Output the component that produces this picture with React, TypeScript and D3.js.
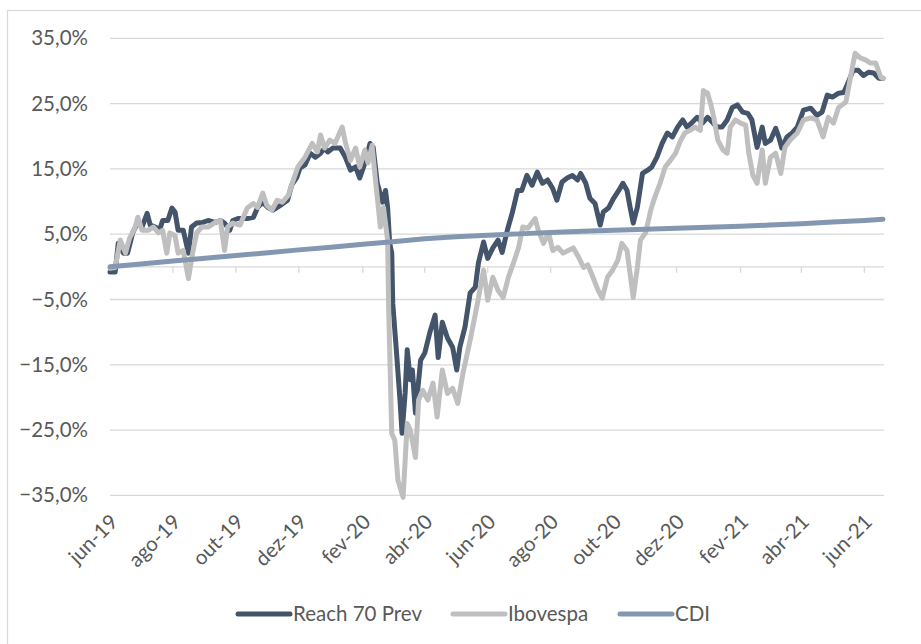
import * as d3 from 'd3';
import React, { useEffect, useRef } from 'react';

const reachDates = [
  '2019-06-01', '2019-06-06', '2019-06-09', '2019-06-14', '2019-06-18', '2019-06-23', '2019-06-28',
  '2019-07-02', '2019-07-07', '2019-07-10', '2019-07-15', '2019-07-19', '2019-07-22', '2019-07-27', '2019-07-31',
  '2019-08-03', '2019-08-06', '2019-08-11', '2019-08-16', '2019-08-19', '2019-08-24', '2019-08-30',
  '2019-09-04', '2019-09-11', '2019-09-16', '2019-09-20', '2019-09-25', '2019-09-28',
  '2019-10-03', '2019-10-12', '2019-10-18', '2019-10-22', '2019-10-27',
  '2019-11-01', '2019-11-06', '2019-11-13', '2019-11-20', '2019-11-24', '2019-11-29',
  '2019-12-02', '2019-12-07', '2019-12-12', '2019-12-17', '2019-12-22', '2019-12-26', '2019-12-29',
  '2020-01-03', '2020-01-10', '2020-01-15', '2020-01-20', '2020-01-25', '2020-01-29',
  '2020-02-03', '2020-02-08', '2020-02-11', '2020-02-15', '2020-02-20', '2020-02-23', '2020-02-25', '2020-02-27', '2020-02-29',
  '2020-03-01', '2020-03-05', '2020-03-08', '2020-03-10', '2020-03-13', '2020-03-15', '2020-03-18', '2020-03-20', '2020-03-23', '2020-03-28',
  '2020-04-01', '2020-04-06', '2020-04-11', '2020-04-14', '2020-04-18', '2020-04-23', '2020-04-28',
  '2020-05-02', '2020-05-05', '2020-05-10', '2020-05-15', '2020-05-20', '2020-05-23', '2020-05-28',
  '2020-06-01', '2020-06-06', '2020-06-11', '2020-06-15', '2020-06-20', '2020-06-25', '2020-06-30',
  '2020-07-04', '2020-07-09', '2020-07-14', '2020-07-19', '2020-07-24', '2020-07-29',
  '2020-08-03', '2020-08-07', '2020-08-12', '2020-08-17', '2020-08-22', '2020-08-27', '2020-08-30',
  '2020-09-04', '2020-09-08', '2020-09-13', '2020-09-18', '2020-09-21', '2020-09-26',
  '2020-10-01', '2020-10-06', '2020-10-10', '2020-10-14', '2020-10-17', '2020-10-20', '2020-10-24', '2020-10-29',
  '2020-11-03', '2020-11-07', '2020-11-12', '2020-11-17', '2020-11-22', '2020-11-27',
  '2020-12-02', '2020-12-07', '2020-12-11', '2020-12-16', '2020-12-21', '2020-12-26', '2020-12-31',
  '2021-01-05', '2021-01-09', '2021-01-14', '2021-01-19', '2021-01-24', '2021-01-29',
  '2021-02-03', '2021-02-08', '2021-02-12', '2021-02-17', '2021-02-22', '2021-02-25',
  '2021-03-02', '2021-03-07', '2021-03-10', '2021-03-13', '2021-03-18', '2021-03-23', '2021-03-28',
  '2021-04-03', '2021-04-10', '2021-04-16', '2021-04-21', '2021-04-26',
  '2021-05-01', '2021-05-07', '2021-05-12', '2021-05-16', '2021-05-21', '2021-05-26', '2021-05-31',
  '2021-06-05', '2021-06-10', '2021-06-15', '2021-06-19',
];
const reachValues = [
  -0.8, -0.8, 3.6, 2.1, 2.1, 5.2, 6.8,
  6.1, 8.2, 6.4, 6.1, 5.6, 7.1, 7.1, 9.0,
  8.4, 5.6, 5.6, 2.1, 6.1, 6.7, 6.8,
  7.1, 6.8, 7.1, 6.7, 5.6, 7.1,
  7.4, 7.4, 7.6, 9.1, 9.9,
  9.1, 8.7, 9.4, 10.2, 12.5, 13.7,
  15.1, 15.6, 17.4, 16.8, 17.4, 18.2, 17.6,
  18.2, 18.2, 16.8, 14.8, 15.3, 13.6,
  15.9, 18.9, 18.3, 12.8, 9.9, 11.7, 9.1, 3.6, 2.1,
  -5.6, -13.9, -20.4, -25.5, -19.3, -12.7, -17.3, -15.8, -22.4, -14.3,
  -13.2, -10.0, -7.4, -13.9, -8.5, -10.9, -12.3,
  -15.8, -12.3, -9.2, -4.0, -3.1, 0.6, 3.8,
  1.3, 2.9, 4.1, 2.2, 5.6, 8.4, 11.7,
  11.7, 14.0, 12.5, 14.5, 12.8, 13.3,
  12.0, 10.2, 13.0, 13.6, 14.0, 13.3, 14.3,
  12.8, 10.5, 9.7, 6.4, 8.4, 9.0,
  10.5, 11.7, 12.8, 11.7, 9.1, 6.7, 9.1, 14.3,
  14.8, 15.3, 16.8, 18.9, 20.5, 19.9,
  21.4, 22.5, 21.4, 22.1, 22.9, 22.0, 22.9,
  22.1, 21.4, 21.4, 22.5, 24.4, 24.8,
  23.7, 23.5, 22.5, 18.3, 21.4, 18.9,
  19.4, 21.2, 19.9, 18.2, 19.9, 20.5, 21.4,
  24.0, 24.3, 23.2, 23.7, 26.3,
  26.0, 26.6, 26.7, 28.1, 30.1, 30.1, 29.3,
  29.8, 29.7, 28.9, 28.9,
];

const ibovDates = [
  '2019-06-01', '2019-06-06', '2019-06-11', '2019-06-16', '2019-06-20', '2019-06-25', '2019-06-28',
  '2019-07-02', '2019-07-08', '2019-07-13', '2019-07-18', '2019-07-22', '2019-07-26', '2019-07-29',
  '2019-08-03', '2019-08-06', '2019-08-11', '2019-08-16', '2019-08-20', '2019-08-24', '2019-08-29',
  '2019-09-04', '2019-09-11', '2019-09-16', '2019-09-20', '2019-09-23', '2019-09-28',
  '2019-10-05', '2019-10-12', '2019-10-18', '2019-10-22', '2019-10-27', '2019-10-31',
  '2019-11-05', '2019-11-10', '2019-11-15', '2019-11-21', '2019-11-25', '2019-11-30',
  '2019-12-07', '2019-12-14', '2019-12-19', '2019-12-22', '2019-12-26', '2019-12-31',
  '2020-01-05', '2020-01-12', '2020-01-15', '2020-01-20', '2020-01-25', '2020-01-29',
  '2020-02-03', '2020-02-06', '2020-02-10', '2020-02-13', '2020-02-18', '2020-02-21', '2020-02-25', '2020-02-26', '2020-02-29',
  '2020-03-03', '2020-03-06', '2020-03-11', '2020-03-15', '2020-03-18', '2020-03-23', '2020-03-26', '2020-03-30',
  '2020-04-04', '2020-04-09', '2020-04-13', '2020-04-18', '2020-04-23', '2020-04-28',
  '2020-05-03', '2020-05-08', '2020-05-15', '2020-05-22', '2020-05-28',
  '2020-06-01', '2020-06-06', '2020-06-11', '2020-06-16', '2020-06-21', '2020-06-26',
  '2020-07-01', '2020-07-05', '2020-07-10', '2020-07-17', '2020-07-20', '2020-07-25', '2020-07-30',
  '2020-08-03', '2020-08-08', '2020-08-13', '2020-08-18', '2020-08-23', '2020-08-28',
  '2020-09-02', '2020-09-06', '2020-09-11', '2020-09-16', '2020-09-20', '2020-09-25', '2020-09-30',
  '2020-10-05', '2020-10-09', '2020-10-14', '2020-10-20', '2020-10-24', '2020-10-27',
  '2020-11-01', '2020-11-06', '2020-11-10', '2020-11-15', '2020-11-20', '2020-11-25', '2020-11-30',
  '2020-12-05', '2020-12-09', '2020-12-14', '2020-12-19', '2020-12-24', '2020-12-27', '2020-12-31',
  '2021-01-03', '2021-01-06', '2021-01-10', '2021-01-15', '2021-01-19', '2021-01-22', '2021-01-27',
  '2021-02-01', '2021-02-06', '2021-02-09', '2021-02-13', '2021-02-17', '2021-02-22', '2021-02-25',
  '2021-03-02', '2021-03-07', '2021-03-12', '2021-03-16', '2021-03-21', '2021-03-28',
  '2021-04-03', '2021-04-10', '2021-04-16', '2021-04-22', '2021-04-27',
  '2021-05-02', '2021-05-07', '2021-05-14', '2021-05-18', '2021-05-23', '2021-05-28',
  '2021-06-02', '2021-06-07', '2021-06-12', '2021-06-17', '2021-06-19',
];
const ibovValues = [
  -0.2, -0.1, 4.1, 2.1, 4.4, 5.9, 7.6,
  5.6, 5.6, 6.1, 5.2, 5.6, 2.1, 5.2,
  4.8, 2.1, 2.5, -1.8, 2.1, 5.2, 6.1,
  6.1, 6.8, 7.1, 2.5, 6.1, 6.7,
  6.4, 9.0, 9.7, 9.1, 11.3, 9.4,
  8.7, 10.2, 9.9, 11.0, 13.0, 15.3,
  16.8, 18.9, 17.6, 20.2, 18.2, 19.4,
  18.9, 21.4, 19.1, 16.3, 18.2, 15.3,
  17.9, 15.9, 18.6, 13.7, 6.1, 9.1, 4.1, -6.2, -25.5,
  -26.6, -32.7, -35.3, -24.0, -25.0, -29.2, -20.4, -18.9,
  -20.4, -17.8, -23.0, -15.8, -19.4, -18.6,
  -20.9, -16.3, -11.2, -5.6, -0.5,
  -5.1, -1.6, -3.6, -4.7, -1.6, 0.6,
  3.0, 6.1, 5.9, 7.4, 5.6, 3.6, 5.2,
  2.5, 3.0, 2.1, 2.5, 2.9, 1.5,
  -0.1, 0.3, -1.6, -3.6, -4.8, -1.6, -0.5,
  1.0, 3.6, 2.5, -4.7, -0.1, 4.1,
  5.2, 8.7, 10.7, 12.8, 15.3, 16.3, 17.4,
  19.4, 20.5, 20.9, 21.4, 20.9, 27.0, 26.6,
  25.0, 22.9, 19.4, 17.9, 17.4, 21.4, 22.5,
  22.0, 21.7, 17.4, 14.0, 12.8, 17.9, 12.8,
  16.8, 17.4, 14.3, 18.3, 19.4, 20.5,
  22.5, 22.8, 22.5, 19.9, 22.9,
  22.0, 24.4, 25.2, 28.6, 32.7, 32.0,
  31.7, 31.2, 31.2, 29.0, 28.9,
];

const cdiDates = [
  '2019-06-01', '2019-07-01', '2019-08-01', '2019-09-01', '2019-10-01', '2019-11-01', '2019-12-01',
  '2020-01-01', '2020-02-01', '2020-03-01', '2020-04-01', '2020-05-01', '2020-06-01', '2020-07-01',
  '2020-08-01', '2020-09-01', '2020-10-01', '2020-11-01', '2020-12-01',
  '2021-01-01', '2021-02-01', '2021-03-01', '2021-04-01', '2021-05-01', '2021-06-01', '2021-06-19',
];
const cdiValues = [
  0.0, 0.45, 0.9, 1.3, 1.75, 2.15, 2.6,
  3.0, 3.45, 3.85, 4.3, 4.6, 4.85, 5.05,
  5.25, 5.45, 5.6, 5.75, 5.9,
  6.05, 6.2, 6.4, 6.6, 6.85, 7.1, 7.3,
];

const yTicks = [-35, -25, -15, -5, 5, 15, 25, 35];
const xTickDates = [
  '2019-06-01', '2019-08-01', '2019-10-01', '2019-12-01', '2020-02-01', '2020-04-01',
  '2020-06-01', '2020-08-01', '2020-10-01', '2020-12-01', '2021-02-01', '2021-04-01', '2021-06-01',
];
const xTickLabels = [
  'jun-19', 'ago-19', 'out-19', 'dez-19', 'fev-20', 'abr-20',
  'jun-20', 'ago-20', 'out-20', 'dez-20', 'fev-21', 'abr-21', 'jun-21',
];
const seriesNames = ['Reach 70 Prev', 'Ibovespa', 'CDI'];
const seriesColors = ['#44546A', '#BFBFBF', '#8497B0'];

const W = 921;
const H = 644;
const FONT = 'Lato, "Open Sans", sans-serif';
const TEXT = '#595959';
const GRID = '#D9D9D9';

const App = () => {
  const svgRef = useRef<SVGSVGElement>(null);

  useEffect(() => {
    const svg = d3.select(svgRef.current);
    svg.selectAll('*').remove();

    const parse = d3.timeParse('%Y-%m-%d');
    const x = d3
      .scaleTime()
      .domain([parse('2019-06-01')!, parse('2021-06-20')!])
      .range([110, 884]);
    const y = d3.scaleLinear().domain([-35, 35]).range([495.4, 38.3]);

    // chart frame
    svg
      .append('rect')
      .attr('x', 7.5)
      .attr('y', 10.5)
      .attr('width', W + 20)
      .attr('height', H + 20)
      .attr('fill', '#fff')
      .attr('stroke', GRID)
      .attr('stroke-width', 1.2);

    // gridlines
    svg
      .append('g')
      .selectAll('line')
      .data(yTicks)
      .join('line')
      .attr('x1', x.range()[0])
      .attr('x2', x.range()[1])
      .attr('y1', (d) => y(d))
      .attr('y2', (d) => y(d))
      .attr('stroke', GRID)
      .attr('stroke-width', 1.3);

    // y labels
    svg
      .append('g')
      .selectAll('text')
      .data(yTicks)
      .join('text')
      .attr('x', 88)
      .attr('y', (d) => y(d) + 7)
      .attr('text-anchor', 'end')
      .attr('font-family', FONT)
      .attr('font-size', 20.5)
      .attr('fill', TEXT)
      .text((d) => d3.format('.1f')(d).replace('.', ',') + '%');

    // zero axis line with ticks
    const axisY = y(0);
    svg
      .append('line')
      .attr('x1', x.range()[0])
      .attr('x2', x.range()[1])
      .attr('y1', axisY)
      .attr('y2', axisY)
      .attr('stroke', GRID)
      .attr('stroke-width', 1.3);
    const tickDates = xTickDates.map((d) => parse(d)!);
    svg
      .append('g')
      .selectAll('line')
      .data(tickDates)
      .join('line')
      .attr('x1', (d) => x(d))
      .attr('x2', (d) => x(d))
      .attr('y1', axisY)
      .attr('y2', axisY + 6)
      .attr('stroke', GRID)
      .attr('stroke-width', 1.3);

    // x labels
    svg
      .append('g')
      .selectAll('text')
      .data(tickDates)
      .join('text')
      .attr('transform', (d) => `translate(${x(d) + 4},${518}) rotate(-45)`)
      .attr('text-anchor', 'end')
      .attr('dy', '0.35em')
      .attr('font-family', FONT)
      .attr('font-size', 20.5)
      .attr('fill', TEXT)
      .text((_, i) => xTickLabels[i]);

    // series
    const line = d3
      .line<[Date, number]>()
      .x((d) => x(d[0]))
      .y((d) => y(d[1]))
      .curve(d3.curveLinear);

    const series: [Date, number][][] = [
      reachDates.map((d, i) => [parse(d)!, reachValues[i]]),
      ibovDates.map((d, i) => [parse(d)!, ibovValues[i]]),
      cdiDates.map((d, i) => [parse(d)!, cdiValues[i]]),
    ];

    svg
      .append('g')
      .selectAll('path')
      .data(series)
      .join('path')
      .attr('d', (d) => line(d))
      .attr('fill', 'none')
      .attr('stroke', (_, i) => seriesColors[i])
      .attr('stroke-width', 5)
      .attr('stroke-linejoin', 'round')
      .attr('stroke-linecap', 'round');

    // legend
    const legendX = [238, 453, 620];
    const legend = svg
      .append('g')
      .selectAll('g')
      .data(seriesNames)
      .join('g')
      .attr('transform', (_, i) => `translate(${legendX[i]},614)`);
    legend
      .append('line')
      .attr('x1', 0)
      .attr('x2', 52)
      .attr('stroke', (_, i) => seriesColors[i])
      .attr('stroke-width', 5)
      .attr('stroke-linecap', 'round');
    legend
      .append('text')
      .attr('x', 55)
      .attr('y', 7)
      .attr('font-family', FONT)
      .attr('font-size', 20.5)
      .attr('fill', TEXT)
      .text((d) => d);
  }, []);

  return (
    <div>
      <svg
        ref={svgRef}
        width={W}
        height={H}
        style={{ position: 'absolute', left: 0, top: 0, display: 'block' }}
      ></svg>
    </div>
  );
};

export default App;
